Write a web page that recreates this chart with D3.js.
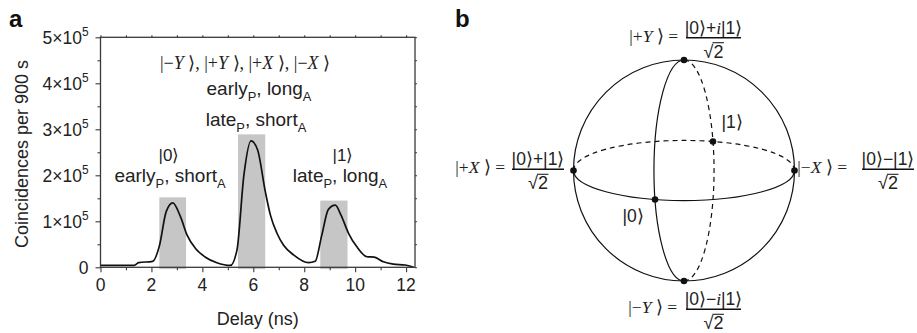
<!DOCTYPE html>
<html>
<head>
<meta charset="utf-8">
<script src="https://cdn.jsdelivr.net/npm/d3@7"></script>
<style>
  html, body { margin: 0; padding: 0; background: #fff; }
  svg { display: block; }
</style>
</head>
<body>
<svg id="chart" width="917" height="333"></svg>
<script>
// ---------------- DATA ----------------
// Panel a: coincidence histogram (delay in ns, counts per 900 s)
const delay = [0, 0.5, 1.0, 1.3, 1.5, 2.05, 2.31, 2.58, 2.84, 3.14, 3.40, 3.73, 4.12, 4.57, 5.1,
  5.36, 5.63, 5.91, 6.17, 6.47, 6.67, 6.93, 7.19, 7.58, 8.17,
  8.43, 8.69, 8.95, 9.22, 9.44, 9.74, 10.06, 10.46, 10.75, 11.11, 11.5, 11.96, 12.3];
const counts = [4000, 4000, 4000, 4000, 10000, 13000, 46000, 121000, 140000, 110000, 70000, 41000, 22000, 10000, 4000,
  38000, 200000, 275000, 255000, 165000, 114000, 74000, 48000, 27000, 10000,
  13000, 70000, 126000, 135000, 114000, 74000, 45000, 23000, 22000, 12000, 7000, 5000, 0];

// Detection windows (shaded)
const windowStart = [2.31, 5.40, 8.63];
const windowEnd = [3.36, 6.47, 9.70];
const windowTop = [152000, 289000, 145000];

// Axis ticks
const xTickValues = [0, 2, 4, 6, 8, 10, 12];
const xMinorTicks = [1, 3, 5, 7, 9, 11];
const yTickValues = [0, 100000, 200000, 300000, 400000, 500000];
const yTickMantissa = ["0", "1", "2", "3", "4", "5"];
const yMinorTicks = [50000, 150000, 250000, 350000, 450000];

// Panel b: Bloch sphere states (screen-unit coordinates: u right, v up)
const blochStates = ["+Y", "-Y", "+X", "-X", "0", "1"];
const blochU = [0, 0, -1, 1, -0.262, 0.262];
const blochV = [1, -1, 0, 0, -0.262, 0.262];
const ellipseRatio = 0.272;

// ---------------- SETUP ----------------
const sans = "'Liberation Sans', Arial, Helvetica, sans-serif";
const serif = "'Liberation Serif', 'Times New Roman', serif";
const svg = d3.select("#chart");

function rich(sel, parts, size) {
  let off = 0;
  parts.forEach(([t, st]) => {
    const ts = sel.append("tspan").text(t);
    let target = 0, fs = size, fam = sans, style = "normal";
    if (st === "sub") { target = size * 0.32; fs = size * 0.68; }
    else if (st === "sup") { target = -size * 0.45; fs = size * 0.68; }
    else if (st === "r") { fam = serif; }
    else if (st === "i") { fam = serif; style = "italic"; }
    ts.attr("dy", target - off).attr("font-size", fs).attr("font-family", fam).attr("font-style", style);
    off = target;
  });
}

// ---------------- PANEL A ----------------
const x = d3.scaleLinear().domain([0, 12.35]).range([100.5, 415]);
const y = d3.scaleLinear().domain([0, 500000]).range([267.3, 37.3]);

const ga = svg.append("g");

// shaded windows
ga.selectAll("rect.win").data(windowStart).enter().append("rect")
  .attr("class", "win")
  .attr("x", (d) => x(d))
  .attr("width", (d, i) => x(windowEnd[i]) - x(d))
  .attr("y", (d, i) => y(windowTop[i]))
  .attr("height", (d, i) => y(0) + 1.8 - y(windowTop[i]))
  .attr("fill", "#c6c6c6");

// curve
const line = d3.line().x((d) => x(d[0])).y((d) => y(d[1])).curve(d3.curveMonotoneX);
ga.append("path")
  .datum(delay.map((d, i) => [d, counts[i]]))
  .attr("d", line)
  .attr("fill", "none")
  .attr("stroke", "#111")
  .attr("stroke-width", 1.7)
  .attr("stroke-linejoin", "round");

// frame
const axisColor = "#3a3a3a";
function styleAxis(g) {
  g.select(".domain").remove();
  g.selectAll(".tick line").attr("stroke", axisColor).attr("stroke-width", 1.1);
  g.selectAll(".tick text").remove();
}
ga.append("g").attr("transform", `translate(0,${y(0)})`)
  .call(d3.axisBottom(x).tickValues(xTickValues).tickSize(5)).call(styleAxis);
ga.append("g").attr("transform", `translate(0,${y(0)})`)
  .call(d3.axisBottom(x).tickValues(xMinorTicks).tickSize(3)).call(styleAxis);
ga.append("g").attr("transform", `translate(0,${y(500000)})`)
  .call(d3.axisTop(x).tickValues(xTickValues.concat(xMinorTicks)).tickSize(2)).call(styleAxis);
ga.append("g").attr("transform", `translate(${x(0)},0)`)
  .call(d3.axisLeft(y).tickValues(yTickValues).tickSize(5)).call(styleAxis);
ga.append("g").attr("transform", `translate(${x(0)},0)`)
  .call(d3.axisLeft(y).tickValues(yMinorTicks).tickSize(3)).call(styleAxis);
ga.append("g").attr("transform", `translate(${x(12.35)},0)`)
  .call(d3.axisRight(y).tickValues(yTickValues.concat(yMinorTicks)).tickSize(2)).call(styleAxis);

ga.append("rect")
  .attr("x", x(0)).attr("y", y(500000))
  .attr("width", x(12.35) - x(0)).attr("height", y(0) - y(500000))
  .attr("fill", "none").attr("stroke", axisColor).attr("stroke-width", 1.3);

// x tick labels
ga.selectAll("text.xt").data(xTickValues).enter().append("text")
  .attr("class", "xt")
  .attr("x", (d) => x(d)).attr("y", y(0) + 24)
  .attr("text-anchor", "middle")
  .attr("font-family", sans).attr("font-size", 17.5).attr("fill", "#222")
  .text((d) => d);

// y tick labels
yTickValues.forEach((v, i) => {
  const t = ga.append("text")
    .attr("x", x(0) - 12).attr("y", y(v) + 6.5)
    .attr("text-anchor", "end")
    .attr("font-family", sans).attr("font-size", 17.5).attr("fill", "#222");
  if (v === 0) t.text("0");
  else rich(t, [[yTickMantissa[i] + "×10", "s"], ["5", "sup"]], 17.5);
});

// axis titles
ga.append("text")
  .attr("x", (x(0) + x(12.35)) / 2).attr("y", 325)
  .attr("text-anchor", "middle")
  .attr("font-family", sans).attr("font-size", 18).attr("fill", "#222")
  .text("Delay (ns)");
ga.append("text")
  .attr("transform", "translate(28,154) rotate(-90)")
  .attr("text-anchor", "middle")
  .attr("font-family", sans).attr("font-size", 18).attr("fill", "#222")
  .text("Coincidences per 900 s");

// annotations
function ann(cx, by, parts, size) {
  const t = ga.append("text").attr("x", cx).attr("y", by)
    .attr("text-anchor", "middle").attr("fill", "#222").attr("font-size", size);
  rich(t, parts, size);
}
ann(245, 69, [["|−", "r"], ["Y", "i"], [" ⟩, |+", "r"], ["Y", "i"], [" ⟩, |+", "r"], ["X", "i"], [" ⟩, |−", "r"], ["X", "i"], [" ⟩", "r"]], 18);
ann(259, 95, [["early", "s"], ["P", "sub"], [", long", "s"], ["A", "sub"]], 19);
ann(256, 126, [["late", "s"], ["P", "sub"], [", short", "s"], ["A", "sub"]], 19);
ann(169, 161, [["|0⟩", "s"]], 17);
ann(170, 182, [["early", "s"], ["P", "sub"], [", short", "s"], ["A", "sub"]], 19);
ann(343, 161, [["|1⟩", "s"]], 17);
ann(340, 182, [["late", "s"], ["P", "sub"], [", long", "s"], ["A", "sub"]], 19);

// panel labels
svg.append("text").attr("x", 9).attr("y", 27).attr("font-family", sans)
  .attr("font-weight", "bold").attr("font-size", 24).attr("fill", "#111").text("a");
svg.append("text").attr("x", 455).attr("y", 27).attr("font-family", sans)
  .attr("font-weight", "bold").attr("font-size", 24).attr("fill", "#111").text("b");

// ---------------- PANEL B ----------------
const bx = d3.scaleLinear().domain([-1, 1]).range([573.5, 794.5]);
const by = d3.scaleLinear().domain([-1, 1]).range([281, 60]);
const R = bx(1) - bx(0);
const cx = bx(0), cy = by(0), rb = R * ellipseRatio;
const gb = svg.append("g").attr("fill", "none").attr("stroke", "#111").attr("stroke-width", 1.2);

gb.append("circle").attr("cx", cx).attr("cy", cy).attr("r", R);

// equator: front (lower) solid, back (upper) dashed
gb.append("path").attr("d", `M${bx(-1)},${cy} A${R},${rb} 0 0 0 ${bx(1)},${cy}`);
gb.append("path").attr("d", `M${bx(-1)},${cy} A${R},${rb} 0 0 1 ${bx(1)},${cy}`)
  .attr("stroke-dasharray", "5,4");
// meridian: front (left) solid, back (right) dashed
gb.append("path").attr("d", `M${cx},${by(1)} A${rb},${R} 0 0 0 ${cx},${by(-1)}`);
gb.append("path").attr("d", `M${cx},${by(1)} A${rb},${R} 0 0 1 ${cx},${by(-1)}`)
  .attr("stroke-dasharray", "5,4");

// state dots
svg.append("g").selectAll("circle").data(blochStates).enter().append("circle")
  .attr("cx", (d, i) => bx(blochU[i]))
  .attr("cy", (d, i) => by(blochV[i]))
  .attr("r", 3.3).attr("fill", "#111");

// labels
function txt(xp, yp, parts, size, anchor) {
  const t = svg.append("text").attr("x", xp).attr("y", yp)
    .attr("text-anchor", anchor || "start").attr("fill", "#222").attr("font-size", size);
  rich(t, parts, size);
  return t;
}
function ketFraction(leftEnd, barX0, barX1, barY, leftParts, numParts) {
  txt(leftEnd, barY + 4, leftParts, 17.5, "end");
  const mid = (barX0 + barX1) / 2;
  txt(mid, barY - 4, numParts, 17.5, "middle");
  svg.append("line").attr("x1", barX0).attr("x2", barX1).attr("y1", barY).attr("y2", barY)
    .attr("stroke", "#111").attr("stroke-width", 1.5);
  const d = txt(mid, barY + 20, [["√2", "s"]], 18, "middle");
  const bb = d.node().getBBox();
  svg.append("line").attr("x1", mid - 1).attr("x2", bb.x + bb.width + 0.5)
    .attr("y1", barY + 5).attr("y2", barY + 5).attr("stroke", "#222").attr("stroke-width", 1.1);
}
ketFraction(678, 686, 741, 37.7,
  [["|+", "r"], ["Y", "i"], [" ⟩ =", "r"]],
  [["|0⟩+", "s"], ["i", "i"], ["|1⟩", "s"]]);
ketFraction(505, 512, 564, 169.3,
  [["|+", "r"], ["X", "i"], [" ⟩ =", "r"]],
  [["|0⟩+|1⟩", "s"]]);
ketFraction(847, 862, 914, 169.3,
  [["|−", "r"], ["X", "i"], [" ⟩ =", "r"]],
  [["|0⟩−|1⟩", "s"]]);
ketFraction(677, 686, 741, 309.3,
  [["|−", "r"], ["Y", "i"], [" ⟩ =", "r"]],
  [["|0⟩−", "s"], ["i", "i"], ["|1⟩", "s"]]);

txt(721.5, 128, [["|1⟩", "s"]], 17.5);
txt(622.5, 222, [["|0⟩", "s"]], 17.5);
</script>
</body>
</html>
